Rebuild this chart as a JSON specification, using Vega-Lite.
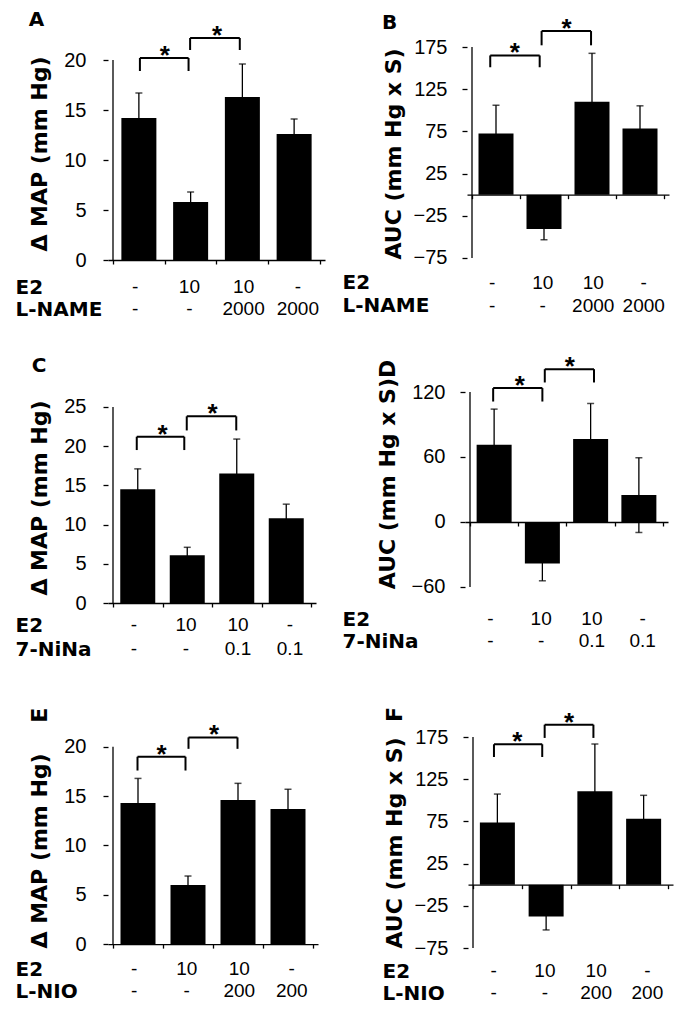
{
"$schema": "https://vega.github.io/schema/vega-lite/v6.json",
"background": "white",
"padding": {"left": 15, "top": 10, "right": 5, "bottom": 5},
"config": {"view": {"stroke": null}, "font": "Liberation Sans",
  "axis": {"domainColor": "black", "tickColor": "black", "labelColor": "black", "titleColor": "black", "grid": false, "domainWidth": 1.3, "tickWidth": 1.3, "labelFlush": false, "labelOverlap": false},
  "title": {"font": "DejaVu Sans", "fontSize": 20, "fontWeight": "bold", "color": "black", "anchor": "start"}},
"datasets": {
 "bars": [
  {"p":"A","c":1,"mean":14.2,"lo":11.7,"hi":16.7},{"p":"A","c":2,"mean":5.8,"lo":4.8,"hi":6.8},{"p":"A","c":3,"mean":16.3,"lo":13.0,"hi":19.6},{"p":"A","c":4,"mean":12.6,"lo":11.1,"hi":14.1},
  {"p":"B","c":1,"mean":72.6,"lo":39.2,"hi":106},{"p":"B","c":2,"mean":-40.8,"lo":-53.4,"hi":-28.2},{"p":"B","c":3,"mean":110,"lo":52.5,"hi":167.5},{"p":"B","c":4,"mean":78.5,"lo":51.7,"hi":105.3},
  {"p":"C","c":1,"mean":14.5,"lo":11.9,"hi":17.1},{"p":"C","c":2,"mean":6.1,"lo":5.1,"hi":7.1},{"p":"C","c":3,"mean":16.5,"lo":12.1,"hi":20.9},{"p":"C","c":4,"mean":10.8,"lo":9.0,"hi":12.6},
  {"p":"D","c":1,"mean":71.3,"lo":38.4,"hi":104.2},{"p":"D","c":2,"mean":-38.3,"lo":-54.3,"hi":-22.3},{"p":"D","c":3,"mean":76.5,"lo":43.6,"hi":109.4},{"p":"D","c":4,"mean":24.8,"lo":-9.7,"hi":59.3},
  {"p":"E","c":1,"mean":14.3,"lo":11.8,"hi":16.8},{"p":"E","c":2,"mean":6.0,"lo":5.1,"hi":6.9},{"p":"E","c":3,"mean":14.6,"lo":12.9,"hi":16.3},{"p":"E","c":4,"mean":13.7,"lo":11.7,"hi":15.7},
  {"p":"F","c":1,"mean":73.8,"lo":40.2,"hi":107.4},{"p":"F","c":2,"mean":-37.7,"lo":-53.6,"hi":-21.8},{"p":"F","c":3,"mean":110.6,"lo":54.5,"hi":166.7},{"p":"F","c":4,"mean":78.1,"lo":50.3,"hi":105.9}
 ],
 "br": [
  {"p":"A","x1":1.02,"x2":1.96,"top":20.2,"leg":18.9,"sx":1.50},{"p":"A","x1":1.99,"x2":2.95,"top":22.2,"leg":21.0,"sx":2.51},
  {"p":"B","x1":0.88,"x2":1.91,"top":165,"leg":151,"sx":1.39},{"p":"B","x1":1.95,"x2":2.98,"top":193.9,"leg":177,"sx":2.47},
  {"p":"C","x1":0.98,"x2":1.94,"top":21.2,"leg":19.5,"sx":1.50},{"p":"C","x1":1.99,"x2":2.99,"top":23.8,"leg":22.0,"sx":2.51},
  {"p":"D","x1":0.98,"x2":2.0,"top":123.6,"leg":111.2,"sx":1.53},{"p":"D","x1":2.05,"x2":3.07,"top":141.1,"leg":128.8,"sx":2.57},
  {"p":"E","x1":0.99,"x2":1.95,"top":19.0,"leg":17.6,"sx":1.47},{"p":"E","x1":2.01,"x2":2.99,"top":20.96,"leg":19.8,"sx":2.52},
  {"p":"F","x1":0.93,"x2":1.92,"top":166.4,"leg":151.3,"sx":1.41},{"p":"F","x1":1.97,"x2":2.97,"top":189.6,"leg":173.9,"sx":2.47}
 ],
 "ax": [
  {"p":"A","y0":0,"y1":20},{"p":"B","y0":-75,"y1":175},{"p":"C","y0":0,"y1":25},
  {"p":"D","y0":-60,"y1":120},{"p":"E","y0":0,"y1":20},{"p":"F","y0":-75,"y1":175}
 ],
 "tbl": [
  {"p":"A","f":"E2","c":1,"v":"-"},{"p":"A","f":"E2","c":2,"v":"10"},{"p":"A","f":"E2","c":3,"v":"10"},{"p":"A","f":"E2","c":4,"v":"-"},
  {"p":"A","f":"L-NAME","c":1,"v":"-"},{"p":"A","f":"L-NAME","c":2,"v":"-"},{"p":"A","f":"L-NAME","c":3,"v":"2000"},{"p":"A","f":"L-NAME","c":4,"v":"2000"},
  {"p":"B","f":"E2","c":1,"v":"-"},{"p":"B","f":"E2","c":2,"v":"10"},{"p":"B","f":"E2","c":3,"v":"10"},{"p":"B","f":"E2","c":4,"v":"-"},
  {"p":"B","f":"L-NAME","c":1,"v":"-"},{"p":"B","f":"L-NAME","c":2,"v":"-"},{"p":"B","f":"L-NAME","c":3,"v":"2000"},{"p":"B","f":"L-NAME","c":4,"v":"2000"},
  {"p":"C","f":"E2","c":1,"v":"-"},{"p":"C","f":"E2","c":2,"v":"10"},{"p":"C","f":"E2","c":3,"v":"10"},{"p":"C","f":"E2","c":4,"v":"-"},
  {"p":"C","f":"7-NiNa","c":1,"v":"-"},{"p":"C","f":"7-NiNa","c":2,"v":"-"},{"p":"C","f":"7-NiNa","c":3,"v":"0.1"},{"p":"C","f":"7-NiNa","c":4,"v":"0.1"},
  {"p":"D","f":"E2","c":1,"v":"-"},{"p":"D","f":"E2","c":2,"v":"10"},{"p":"D","f":"E2","c":3,"v":"10"},{"p":"D","f":"E2","c":4,"v":"-"},
  {"p":"D","f":"7-NiNa","c":1,"v":"-"},{"p":"D","f":"7-NiNa","c":2,"v":"-"},{"p":"D","f":"7-NiNa","c":3,"v":"0.1"},{"p":"D","f":"7-NiNa","c":4,"v":"0.1"},
  {"p":"E","f":"E2","c":1,"v":"-"},{"p":"E","f":"E2","c":2,"v":"10"},{"p":"E","f":"E2","c":3,"v":"10"},{"p":"E","f":"E2","c":4,"v":"-"},
  {"p":"E","f":"L-NIO","c":1,"v":"-"},{"p":"E","f":"L-NIO","c":2,"v":"-"},{"p":"E","f":"L-NIO","c":3,"v":"200"},{"p":"E","f":"L-NIO","c":4,"v":"200"},
  {"p":"F","f":"E2","c":1,"v":"-"},{"p":"F","f":"E2","c":2,"v":"10"},{"p":"F","f":"E2","c":3,"v":"10"},{"p":"F","f":"E2","c":4,"v":"-"},
  {"p":"F","f":"L-NIO","c":1,"v":"-"},{"p":"F","f":"L-NIO","c":2,"v":"-"},{"p":"F","f":"L-NIO","c":3,"v":"200"},{"p":"F","f":"L-NIO","c":4,"v":"200"}
 ]
},
"spacing": 45,
"vconcat": [
{"spacing": 34, "vconcat": [
 {"hconcat": [
  {"spacing": 6, "vconcat": [
   {"width": 217, "height": 213, "title": {"text": "A", "offset": -7},
    "layer": [
     {"data": {"name": "bars"}, "transform": [{"filter": "datum.p == 'A'"}], "mark": {"type": "rule", "color": "black", "strokeWidth": 1.3},
      "encoding": {"x": {"field": "c", "type": "quantitative", "scale": {"domain": [0.5, 4.5], "nice": false, "zero": false}, "axis": {"values": [0.5,1.5,2.5,3.5,4.5], "labels": false, "tickSize": 4, "title": null, "offset": 0}},
       "y": {"field": "lo", "type": "quantitative", "scale": {"domain": [0, 21.3], "nice": false}, "axis": {"values": [0,5,10,15,20], "domain": false, "tickSize": 5, "labelPadding": 17, "labelFontSize": 20, "title": "Δ MAP (mm Hg)", "titleFont": "DejaVu Sans", "titleFontSize": 22, "titleFontWeight": "bold", "titlePadding": 12}},
       "y2": {"field": "hi"}}},
     {"data": {"name": "ax"}, "transform": [{"filter": "datum.p == 'A'"}], "mark": {"type": "rule", "color": "black", "strokeWidth": 1.3},
      "encoding": {"x": {"datum": 0.5, "type": "quantitative"}, "y": {"field": "y0", "type": "quantitative"}, "y2": {"field": "y1"}}},
     {"data": {"name": "bars"}, "transform": [{"filter": "datum.p == 'A'"}], "mark": {"type": "tick", "orient": "horizontal", "size": 7, "thickness": 1.5, "color": "black"},
      "encoding": {"x": {"field": "c", "type": "quantitative"}, "y": {"field": "hi", "type": "quantitative"}}},
     {"data": {"name": "bars"}, "transform": [{"filter": "datum.p == 'A'"}], "mark": {"type": "bar", "orient": "vertical", "width": 35, "color": "black"},
      "encoding": {"x": {"field": "c", "type": "quantitative"}, "y": {"field": "mean", "type": "quantitative"}}},
     {"data": {"name": "br"}, "transform": [{"filter": "datum.p == 'A'"}], "mark": {"type": "rule", "color": "black", "strokeWidth": 2},
      "encoding": {"x": {"field": "x1", "type": "quantitative"}, "x2": {"field": "x2"}, "y": {"field": "top", "type": "quantitative"}}},
     {"data": {"name": "br"}, "transform": [{"filter": "datum.p == 'A'"}], "mark": {"type": "rule", "color": "black", "strokeWidth": 2},
      "encoding": {"x": {"field": "x1", "type": "quantitative"}, "y": {"field": "top", "type": "quantitative"}, "y2": {"field": "leg"}}},
     {"data": {"name": "br"}, "transform": [{"filter": "datum.p == 'A'"}], "mark": {"type": "rule", "color": "black", "strokeWidth": 2},
      "encoding": {"x": {"field": "x2", "type": "quantitative"}, "y": {"field": "top", "type": "quantitative"}, "y2": {"field": "leg"}}},
     {"data": {"name": "br"}, "transform": [{"filter": "datum.p == 'A'"}], "mark": {"type": "text", "text": "*", "fontSize": 26, "fontWeight": "bold", "baseline": "alphabetic", "dy": 6, "color": "black"},
      "encoding": {"x": {"field": "sx", "type": "quantitative"}, "y": {"field": "top", "type": "quantitative"}}}
    ]},
   {"width": 217, "height": 44, "data": {"name": "tbl"}, "transform": [{"filter": "datum.p == 'A'"}],
    "mark": {"type": "text", "fontSize": 19, "color": "black"},
    "encoding": {"x": {"field": "c", "type": "quantitative", "scale": {"domain": [0.5, 4.5], "nice": false, "zero": false}, "axis": null},
     "y": {"field": "f", "type": "nominal", "sort": null, "axis": {"title": null, "domain": false, "ticks": false, "labelAlign": "left", "labelPadding": 93, "labelFont": "DejaVu Sans", "labelFontWeight": "bold", "labelFontSize": 20}},
     "text": {"field": "v"}}}
  ]},
  {"spacing": 3, "vconcat": [
   {"width": 202, "height": 213, "title": {"text": "B", "offset": -17},
    "layer": [
     {"data": {"name": "bars"}, "transform": [{"filter": "datum.p == 'B'"}], "mark": {"type": "rule", "color": "black", "strokeWidth": 1.3},
      "encoding": {"x": {"field": "c", "type": "quantitative", "scale": {"domain": [0.5, 4.5], "nice": false, "zero": false}, "axis": {"values": [0.5,1.5,2.5,3.5,4.5], "labels": false, "tickSize": 4, "title": null, "offset": -65.3}},
       "y": {"field": "lo", "type": "quantitative", "scale": {"domain": [-77.4, 175], "nice": false}, "axis": {"values": [-75,-25,25,75,125,175], "domain": false, "tickSize": 5, "labelPadding": 15, "labelFontSize": 20, "title": "AUC (mm Hg x S)", "titleFont": "DejaVu Sans", "titleFontSize": 22, "titleFontWeight": "bold", "titlePadding": 8}},
       "y2": {"field": "hi"}}},
     {"data": {"name": "ax"}, "transform": [{"filter": "datum.p == 'B'"}], "mark": {"type": "rule", "color": "black", "strokeWidth": 1.3},
      "encoding": {"x": {"datum": 0.5, "type": "quantitative"}, "y": {"field": "y0", "type": "quantitative"}, "y2": {"field": "y1"}}},
     {"data": {"name": "bars"}, "transform": [{"filter": "datum.p == 'B'"}], "mark": {"type": "tick", "orient": "horizontal", "size": 7, "thickness": 1.5, "color": "black"},
      "encoding": {"x": {"field": "c", "type": "quantitative"}, "y": {"field": "lo", "type": "quantitative"}}},
     {"data": {"name": "bars"}, "transform": [{"filter": "datum.p == 'B'"}], "mark": {"type": "tick", "orient": "horizontal", "size": 7, "thickness": 1.5, "color": "black"},
      "encoding": {"x": {"field": "c", "type": "quantitative"}, "y": {"field": "hi", "type": "quantitative"}}},
     {"data": {"name": "bars"}, "transform": [{"filter": "datum.p == 'B'"}], "mark": {"type": "bar", "orient": "vertical", "width": 35, "color": "black"},
      "encoding": {"x": {"field": "c", "type": "quantitative"}, "y": {"field": "mean", "type": "quantitative"}}},
     {"data": {"name": "br"}, "transform": [{"filter": "datum.p == 'B'"}], "mark": {"type": "rule", "color": "black", "strokeWidth": 2},
      "encoding": {"x": {"field": "x1", "type": "quantitative"}, "x2": {"field": "x2"}, "y": {"field": "top", "type": "quantitative"}}},
     {"data": {"name": "br"}, "transform": [{"filter": "datum.p == 'B'"}], "mark": {"type": "rule", "color": "black", "strokeWidth": 2},
      "encoding": {"x": {"field": "x1", "type": "quantitative"}, "y": {"field": "top", "type": "quantitative"}, "y2": {"field": "leg"}}},
     {"data": {"name": "br"}, "transform": [{"filter": "datum.p == 'B'"}], "mark": {"type": "rule", "color": "black", "strokeWidth": 2},
      "encoding": {"x": {"field": "x2", "type": "quantitative"}, "y": {"field": "top", "type": "quantitative"}, "y2": {"field": "leg"}}},
     {"data": {"name": "br"}, "transform": [{"filter": "datum.p == 'B'"}], "mark": {"type": "text", "text": "*", "fontSize": 26, "fontWeight": "bold", "baseline": "alphabetic", "dy": 6, "color": "black"},
      "encoding": {"x": {"field": "sx", "type": "quantitative"}, "y": {"field": "top", "type": "quantitative"}}}
    ]},
   {"width": 202, "height": 46, "data": {"name": "tbl"}, "transform": [{"filter": "datum.p == 'B'"}],
    "mark": {"type": "text", "fontSize": 19, "color": "black"},
    "encoding": {"x": {"field": "c", "type": "quantitative", "scale": {"domain": [0.5, 4.5], "nice": false, "zero": false}, "axis": null},
     "y": {"field": "f", "type": "nominal", "sort": null, "axis": {"title": null, "domain": false, "ticks": false, "labelAlign": "left", "labelPadding": 125, "labelFont": "DejaVu Sans", "labelFontWeight": "bold", "labelFontSize": 20}},
     "text": {"field": "v"}}}
  ]}
 ], "spacing": 17},
 {"hconcat": [
  {"spacing": 0, "vconcat": [
   {"width": 208, "height": 211, "title": {"text": "C", "dx": 3, "offset": 16},
    "layer": [
     {"data": {"name": "bars"}, "transform": [{"filter": "datum.p == 'C'"}], "mark": {"type": "rule", "color": "black", "strokeWidth": 1.3},
      "encoding": {"x": {"field": "c", "type": "quantitative", "scale": {"domain": [0.5, 4.5], "nice": false, "zero": false}, "axis": {"values": [0.5,1.5,2.5,3.5,4.5], "labels": false, "tickSize": 4, "title": null, "offset": 0}},
       "y": {"field": "lo", "type": "quantitative", "scale": {"domain": [0, 26.9], "nice": false}, "axis": {"values": [0,5,10,15,20,25], "domain": false, "tickSize": 5, "labelPadding": 17, "labelFontSize": 20, "title": "Δ MAP (mm Hg)", "titleFont": "DejaVu Sans", "titleFontSize": 22, "titleFontWeight": "bold", "titlePadding": 12}},
       "y2": {"field": "hi"}}},
     {"data": {"name": "ax"}, "transform": [{"filter": "datum.p == 'C'"}], "mark": {"type": "rule", "color": "black", "strokeWidth": 1.3},
      "encoding": {"x": {"datum": 0.5, "type": "quantitative"}, "y": {"field": "y0", "type": "quantitative"}, "y2": {"field": "y1"}}},
     {"data": {"name": "bars"}, "transform": [{"filter": "datum.p == 'C'"}], "mark": {"type": "tick", "orient": "horizontal", "size": 7, "thickness": 1.5, "color": "black"},
      "encoding": {"x": {"field": "c", "type": "quantitative"}, "y": {"field": "hi", "type": "quantitative"}}},
     {"data": {"name": "bars"}, "transform": [{"filter": "datum.p == 'C'"}], "mark": {"type": "bar", "orient": "vertical", "width": 35, "color": "black"},
      "encoding": {"x": {"field": "c", "type": "quantitative"}, "y": {"field": "mean", "type": "quantitative"}}},
     {"data": {"name": "br"}, "transform": [{"filter": "datum.p == 'C'"}], "mark": {"type": "rule", "color": "black", "strokeWidth": 2},
      "encoding": {"x": {"field": "x1", "type": "quantitative"}, "x2": {"field": "x2"}, "y": {"field": "top", "type": "quantitative"}}},
     {"data": {"name": "br"}, "transform": [{"filter": "datum.p == 'C'"}], "mark": {"type": "rule", "color": "black", "strokeWidth": 2},
      "encoding": {"x": {"field": "x1", "type": "quantitative"}, "y": {"field": "top", "type": "quantitative"}, "y2": {"field": "leg"}}},
     {"data": {"name": "br"}, "transform": [{"filter": "datum.p == 'C'"}], "mark": {"type": "rule", "color": "black", "strokeWidth": 2},
      "encoding": {"x": {"field": "x2", "type": "quantitative"}, "y": {"field": "top", "type": "quantitative"}, "y2": {"field": "leg"}}},
     {"data": {"name": "br"}, "transform": [{"filter": "datum.p == 'C'"}], "mark": {"type": "text", "text": "*", "fontSize": 26, "fontWeight": "bold", "baseline": "alphabetic", "dy": 6, "color": "black"},
      "encoding": {"x": {"field": "sx", "type": "quantitative"}, "y": {"field": "top", "type": "quantitative"}}}
    ]},
   {"width": 208, "height": 48, "data": {"name": "tbl"}, "transform": [{"filter": "datum.p == 'C'"}],
    "mark": {"type": "text", "fontSize": 19, "color": "black"},
    "encoding": {"x": {"field": "c", "type": "quantitative", "scale": {"domain": [0.5, 4.5], "nice": false, "zero": false}, "axis": null},
     "y": {"field": "f", "type": "nominal", "sort": null, "axis": {"title": null, "domain": false, "ticks": false, "labelAlign": "left", "labelPadding": 93, "labelFont": "DejaVu Sans", "labelFontWeight": "bold", "labelFontSize": 20}},
     "text": {"field": "v"}}}
  ]},
  {"spacing": 5, "vconcat": [
   {"width": 203, "height": 211,
    "layer": [
     {"data": {"name": "bars"}, "transform": [{"filter": "datum.p == 'D'"}], "mark": {"type": "rule", "color": "black", "strokeWidth": 1.3},
      "encoding": {"x": {"field": "c", "type": "quantitative", "scale": {"domain": [0.5, 4.5], "nice": false, "zero": false}, "axis": {"values": [0.5,1.5,2.5,3.5,4.5], "labels": false, "tickSize": 4, "title": null, "offset": -81}},
       "y": {"field": "lo", "type": "quantitative", "scale": {"domain": [-74.8, 120], "nice": false}, "axis": {"values": [-60,0,60,120], "domain": false, "tickSize": 5, "labelPadding": 15, "labelFontSize": 20, "title": "AUC (mm Hg x S)D", "titleX": -66, "titleY": 82, "titleFont": "DejaVu Sans", "titleFontSize": 22, "titleFontWeight": "bold", "titlePadding": 8}},
       "y2": {"field": "hi"}}},
     {"data": {"name": "ax"}, "transform": [{"filter": "datum.p == 'D'"}], "mark": {"type": "rule", "color": "black", "strokeWidth": 1.3},
      "encoding": {"x": {"datum": 0.5, "type": "quantitative"}, "y": {"field": "y0", "type": "quantitative"}, "y2": {"field": "y1"}}},
     {"data": {"name": "bars"}, "transform": [{"filter": "datum.p == 'D'"}], "mark": {"type": "tick", "orient": "horizontal", "size": 7, "thickness": 1.5, "color": "black"},
      "encoding": {"x": {"field": "c", "type": "quantitative"}, "y": {"field": "lo", "type": "quantitative"}}},
     {"data": {"name": "bars"}, "transform": [{"filter": "datum.p == 'D'"}], "mark": {"type": "tick", "orient": "horizontal", "size": 7, "thickness": 1.5, "color": "black"},
      "encoding": {"x": {"field": "c", "type": "quantitative"}, "y": {"field": "hi", "type": "quantitative"}}},
     {"data": {"name": "bars"}, "transform": [{"filter": "datum.p == 'D'"}], "mark": {"type": "bar", "orient": "vertical", "width": 35, "color": "black"},
      "encoding": {"x": {"field": "c", "type": "quantitative"}, "y": {"field": "mean", "type": "quantitative"}}},
     {"data": {"name": "br"}, "transform": [{"filter": "datum.p == 'D'"}], "mark": {"type": "rule", "color": "black", "strokeWidth": 2},
      "encoding": {"x": {"field": "x1", "type": "quantitative"}, "x2": {"field": "x2"}, "y": {"field": "top", "type": "quantitative"}}},
     {"data": {"name": "br"}, "transform": [{"filter": "datum.p == 'D'"}], "mark": {"type": "rule", "color": "black", "strokeWidth": 2},
      "encoding": {"x": {"field": "x1", "type": "quantitative"}, "y": {"field": "top", "type": "quantitative"}, "y2": {"field": "leg"}}},
     {"data": {"name": "br"}, "transform": [{"filter": "datum.p == 'D'"}], "mark": {"type": "rule", "color": "black", "strokeWidth": 2},
      "encoding": {"x": {"field": "x2", "type": "quantitative"}, "y": {"field": "top", "type": "quantitative"}, "y2": {"field": "leg"}}},
     {"data": {"name": "br"}, "transform": [{"filter": "datum.p == 'D'"}], "mark": {"type": "text", "text": "*", "fontSize": 26, "fontWeight": "bold", "baseline": "alphabetic", "dy": 6, "color": "black"},
      "encoding": {"x": {"field": "sx", "type": "quantitative"}, "y": {"field": "top", "type": "quantitative"}}}
    ]},
   {"width": 203, "height": 44, "data": {"name": "tbl"}, "transform": [{"filter": "datum.p == 'D'"}],
    "mark": {"type": "text", "fontSize": 19, "color": "black"},
    "encoding": {"x": {"field": "c", "type": "quantitative", "scale": {"domain": [0.5, 4.5], "nice": false, "zero": false}, "axis": null},
     "y": {"field": "f", "type": "nominal", "sort": null, "axis": {"title": null, "domain": false, "ticks": false, "labelAlign": "left", "labelPadding": 123, "labelFont": "DejaVu Sans", "labelFontWeight": "bold", "labelFontSize": 20}},
     "text": {"field": "v"}}}
  ]}
 ], "spacing": 26}
]},
 {"hconcat": [
  {"spacing": 3, "vconcat": [
   {"width": 210, "height": 211,
    "layer": [
     {"data": {"name": "bars"}, "transform": [{"filter": "datum.p == 'E'"}], "mark": {"type": "rule", "color": "black", "strokeWidth": 1.3},
      "encoding": {"x": {"field": "c", "type": "quantitative", "scale": {"domain": [0.5, 4.5], "nice": false, "zero": false}, "axis": {"values": [0.5,1.5,2.5,3.5,4.5], "labels": false, "tickSize": 4, "title": null, "offset": -3.9}},
       "y": {"field": "lo", "type": "quantitative", "scale": {"domain": [-0.4, 21.0], "nice": false}, "axis": {"values": [0,5,10,15,20], "domain": false, "tickSize": 5, "labelPadding": 17, "labelFontSize": 20, "title": "Δ MAP (mm Hg)\u00a0\u00a0\u00a0\u00a0E", "titleAnchor": "start", "titleFont": "DejaVu Sans", "titleFontSize": 22, "titleFontWeight": "bold", "titlePadding": 12}},
       "y2": {"field": "hi"}}},
     {"data": {"name": "ax"}, "transform": [{"filter": "datum.p == 'E'"}], "mark": {"type": "rule", "color": "black", "strokeWidth": 1.3},
      "encoding": {"x": {"datum": 0.5, "type": "quantitative"}, "y": {"field": "y0", "type": "quantitative"}, "y2": {"field": "y1"}}},
     {"data": {"name": "bars"}, "transform": [{"filter": "datum.p == 'E'"}], "mark": {"type": "tick", "orient": "horizontal", "size": 7, "thickness": 1.5, "color": "black"},
      "encoding": {"x": {"field": "c", "type": "quantitative"}, "y": {"field": "hi", "type": "quantitative"}}},
     {"data": {"name": "bars"}, "transform": [{"filter": "datum.p == 'E'"}], "mark": {"type": "bar", "orient": "vertical", "width": 35, "color": "black"},
      "encoding": {"x": {"field": "c", "type": "quantitative"}, "y": {"field": "mean", "type": "quantitative"}}},
     {"data": {"name": "br"}, "transform": [{"filter": "datum.p == 'E'"}], "mark": {"type": "rule", "color": "black", "strokeWidth": 2},
      "encoding": {"x": {"field": "x1", "type": "quantitative"}, "x2": {"field": "x2"}, "y": {"field": "top", "type": "quantitative"}}},
     {"data": {"name": "br"}, "transform": [{"filter": "datum.p == 'E'"}], "mark": {"type": "rule", "color": "black", "strokeWidth": 2},
      "encoding": {"x": {"field": "x1", "type": "quantitative"}, "y": {"field": "top", "type": "quantitative"}, "y2": {"field": "leg"}}},
     {"data": {"name": "br"}, "transform": [{"filter": "datum.p == 'E'"}], "mark": {"type": "rule", "color": "black", "strokeWidth": 2},
      "encoding": {"x": {"field": "x2", "type": "quantitative"}, "y": {"field": "top", "type": "quantitative"}, "y2": {"field": "leg"}}},
     {"data": {"name": "br"}, "transform": [{"filter": "datum.p == 'E'"}], "mark": {"type": "text", "text": "*", "fontSize": 26, "fontWeight": "bold", "baseline": "alphabetic", "dy": 6, "color": "black"},
      "encoding": {"x": {"field": "sx", "type": "quantitative"}, "y": {"field": "top", "type": "quantitative"}}}
    ]},
   {"width": 210, "height": 44, "data": {"name": "tbl"}, "transform": [{"filter": "datum.p == 'E'"}],
    "mark": {"type": "text", "fontSize": 19, "color": "black"},
    "encoding": {"x": {"field": "c", "type": "quantitative", "scale": {"domain": [0.5, 4.5], "nice": false, "zero": false}, "axis": null},
     "y": {"field": "f", "type": "nominal", "sort": null, "axis": {"title": null, "domain": false, "ticks": false, "labelAlign": "left", "labelPadding": 93, "labelFont": "DejaVu Sans", "labelFontWeight": "bold", "labelFontSize": 20}},
     "text": {"field": "v"}}}
  ]},
  {"spacing": 2, "vconcat": [
   {"width": 205, "height": 211,
    "layer": [
     {"data": {"name": "bars"}, "transform": [{"filter": "datum.p == 'F'"}], "mark": {"type": "rule", "color": "black", "strokeWidth": 1.3},
      "encoding": {"x": {"field": "c", "type": "quantitative", "scale": {"domain": [0.5, 4.5], "nice": false, "zero": false}, "axis": {"values": [0.5,1.5,2.5,3.5,4.5], "labels": false, "tickSize": 4, "title": null, "offset": -63.3}},
       "y": {"field": "lo", "type": "quantitative", "scale": {"domain": [-75, 175], "nice": false}, "axis": {"values": [-75,-25,25,75,125,175], "domain": false, "tickSize": 5, "labelPadding": 15, "labelFontSize": 20, "title": "AUC (mm Hg x S)\u00a0\u00a0F", "titleAnchor": "start", "titleFont": "DejaVu Sans", "titleFontSize": 22, "titleFontWeight": "bold", "titlePadding": 8}},
       "y2": {"field": "hi"}}},
     {"data": {"name": "ax"}, "transform": [{"filter": "datum.p == 'F'"}], "mark": {"type": "rule", "color": "black", "strokeWidth": 1.3},
      "encoding": {"x": {"datum": 0.5, "type": "quantitative"}, "y": {"field": "y0", "type": "quantitative"}, "y2": {"field": "y1"}}},
     {"data": {"name": "bars"}, "transform": [{"filter": "datum.p == 'F'"}], "mark": {"type": "tick", "orient": "horizontal", "size": 7, "thickness": 1.5, "color": "black"},
      "encoding": {"x": {"field": "c", "type": "quantitative"}, "y": {"field": "lo", "type": "quantitative"}}},
     {"data": {"name": "bars"}, "transform": [{"filter": "datum.p == 'F'"}], "mark": {"type": "tick", "orient": "horizontal", "size": 7, "thickness": 1.5, "color": "black"},
      "encoding": {"x": {"field": "c", "type": "quantitative"}, "y": {"field": "hi", "type": "quantitative"}}},
     {"data": {"name": "bars"}, "transform": [{"filter": "datum.p == 'F'"}], "mark": {"type": "bar", "orient": "vertical", "width": 35, "color": "black"},
      "encoding": {"x": {"field": "c", "type": "quantitative"}, "y": {"field": "mean", "type": "quantitative"}}},
     {"data": {"name": "br"}, "transform": [{"filter": "datum.p == 'F'"}], "mark": {"type": "rule", "color": "black", "strokeWidth": 2},
      "encoding": {"x": {"field": "x1", "type": "quantitative"}, "x2": {"field": "x2"}, "y": {"field": "top", "type": "quantitative"}}},
     {"data": {"name": "br"}, "transform": [{"filter": "datum.p == 'F'"}], "mark": {"type": "rule", "color": "black", "strokeWidth": 2},
      "encoding": {"x": {"field": "x1", "type": "quantitative"}, "y": {"field": "top", "type": "quantitative"}, "y2": {"field": "leg"}}},
     {"data": {"name": "br"}, "transform": [{"filter": "datum.p == 'F'"}], "mark": {"type": "rule", "color": "black", "strokeWidth": 2},
      "encoding": {"x": {"field": "x2", "type": "quantitative"}, "y": {"field": "top", "type": "quantitative"}, "y2": {"field": "leg"}}},
     {"data": {"name": "br"}, "transform": [{"filter": "datum.p == 'F'"}], "mark": {"type": "text", "text": "*", "fontSize": 26, "fontWeight": "bold", "baseline": "alphabetic", "dy": 6, "color": "black"},
      "encoding": {"x": {"field": "sx", "type": "quantitative"}, "y": {"field": "top", "type": "quantitative"}}}
    ]},
   {"width": 205, "height": 44, "data": {"name": "tbl"}, "transform": [{"filter": "datum.p == 'F'"}],
    "mark": {"type": "text", "fontSize": 19, "color": "black"},
    "encoding": {"x": {"field": "c", "type": "quantitative", "scale": {"domain": [0.5, 4.5], "nice": false, "zero": false}, "axis": null},
     "y": {"field": "f", "type": "nominal", "sort": null, "axis": {"title": null, "domain": false, "ticks": false, "labelAlign": "left", "labelPadding": 86, "labelFont": "DejaVu Sans", "labelFontWeight": "bold", "labelFontSize": 20}},
     "text": {"field": "v"}}}
  ]}
 ], "spacing": 64}
]
}
